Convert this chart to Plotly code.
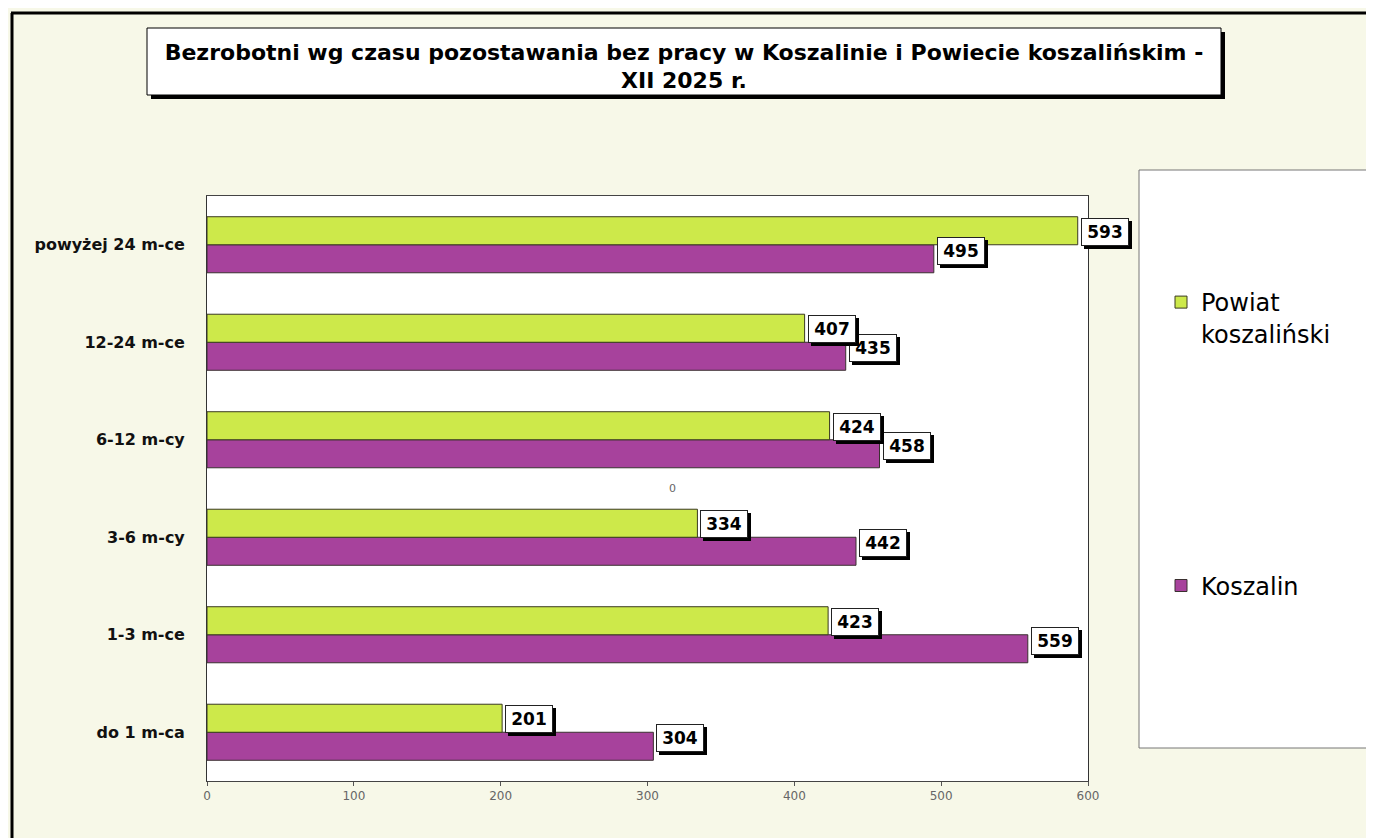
import plotly.graph_objects as go

# Dane (XII 2025)
kategorie = ["do 1 m-ca", "1-3 m-ce", "3-6 m-cy", "6-12 m-cy", "12-24 m-ce", "powyżej 24 m-ce"]
koszalin = [304, 559, 442, 458, 435, 495]
powiat = [201, 423, 334, 424, 407, 593]
x_ticks = [0, 100, 200, 300, 400, 500, 600]

TYTUL = "Bezrobotni wg czasu pozostawania bez pracy w Koszalinie i Powiecie koszalińskim -<br>XII 2025 r."

OFF = 8  # margines strony (body) w przeglądarce
W, H = 1374 - OFF, 838 - OFF
ML, MT = 207 - OFF, 196 - OFF
PR, PB = 1088 - OFF, 781 - OFF
MR, MB = W - PR, H - PB
PW, PH = PR - ML, PB - MT

KOLOR_POWIAT = "#cde94a"
KOLOR_KOSZALIN = "#a7429c"
TLO = "#f7f8e8"
FONT = "DejaVu Sans"


# współrzędne z obrazka wzorcowego -> paper
def px_x(p):
    return (p - OFF - ML) / PW


def px_y(p):
    return (PB - (p - OFF)) / PH


fig = go.Figure()

fig.add_trace(go.Bar(
    y=kategorie, x=koszalin, orientation="h", name="Koszalin",
    marker=dict(color=KOLOR_KOSZALIN, line=dict(color="#3a3030", width=1)),
    legendgroup="k", legendrank=2, hoverinfo="x",
))
fig.add_trace(go.Bar(
    y=kategorie, x=powiat, orientation="h", name="Powiat<br>koszaliński",
    marker=dict(color=KOLOR_POWIAT, line=dict(color="#3a3a20", width=1)),
    legendgroup="p", legendrank=1, hoverinfo="x",
))

# etykiety wartości: biała ramka z czarnym cieniem
def etykieta(val, cat, ysh):
    common = dict(x=val, y=cat, xref="x", yref="y", xanchor="left", yanchor="middle",
                  showarrow=False, width=44, height=24, borderpad=1, borderwidth=1,
                  font=dict(family=FONT, size=17, color="black", weight="bold"))
    # cień - sama ramka bez tekstu
    fig.add_annotation(text=" ", xshift=6, yshift=ysh - 3, bgcolor="black",
                       bordercolor="black", **common)
    fig.add_annotation(text=str(val), xshift=3, yshift=ysh, bgcolor="white",
                       bordercolor="#222", **common)


for c, v in zip(kategorie, koszalin):
    etykieta(v, c, -6)
for c, v in zip(kategorie, powiat):
    etykieta(v, c, 13)

# zabłąkane "0" z oryginału
fig.add_annotation(text="0", x=317, y=px_y(488), xref="x", yref="paper", showarrow=False,
                   font=dict(family=FONT, size=11, color="#666"))

shapes = [
    # ramka zewnętrzna
    dict(type="line", x0=px_x(12), x1=px_x(12), y0=px_y(13), y1=px_y(850),
         line=dict(color="black", width=3)),
    dict(type="line", x0=px_x(11), x1=px_x(1390), y0=px_y(13), y1=px_y(13),
         line=dict(color="black", width=3)),
    # pole tytułu (cień + ramka)
    dict(type="rect", x0=px_x(151), x1=px_x(1225), y0=px_y(32), y1=px_y(99),
         fillcolor="black", line=dict(width=0)),
    dict(type="rect", x0=px_x(147), x1=px_x(1221), y0=px_y(28), y1=px_y(95),
         fillcolor="white", line=dict(color="black", width=1)),
    # pole legendy
    dict(type="rect", x0=px_x(1139), x1=px_x(1395), y0=px_y(748), y1=px_y(170),
         fillcolor="white", line=dict(color="#777", width=1)),
]
for s in shapes:
    s.update(xref="paper", yref="paper", layer="below")

fig.update_layout(
    width=W, height=H,
    margin=dict(l=ML, r=MR, t=MT, b=MB, autoexpand=False),
    paper_bgcolor=TLO, plot_bgcolor="white",
    barmode="group", bargap=0.425, bargroupgap=0,
    shapes=shapes,
    title=dict(text=TYTUL, x=(684 - OFF) / W, y=1 - 51.5 / H, xanchor="center", yanchor="middle",
               xref="container", yref="container",
               font=dict(family=FONT, size=22, color="black", weight="bold")),
    xaxis=dict(range=[0, 600], tickvals=x_ticks, ticks="outside", ticklen=4,
               tickcolor="#555", showgrid=False, zeroline=False,
               showline=True, linecolor="#444", linewidth=1, mirror=True,
               tickfont=dict(family=FONT, size=12, color="#666")),
    yaxis=dict(showgrid=False, zeroline=False, showline=True, linecolor="#333",
               linewidth=1, mirror=True, ticks="", ticklabelstandoff=18,
               tickfont=dict(family=FONT, size=16, color="#111", weight="bold")),
    legend=dict(x=px_x(1161), y=px_y(280), xanchor="left", yanchor="top",
                bgcolor="rgba(0,0,0,0)", borderwidth=0, traceorder="grouped",
                tracegroupgap=218, valign="top",
                font=dict(family=FONT, size=24, color="black")),
    showlegend=True,
)

fig.write_html("out.html")
